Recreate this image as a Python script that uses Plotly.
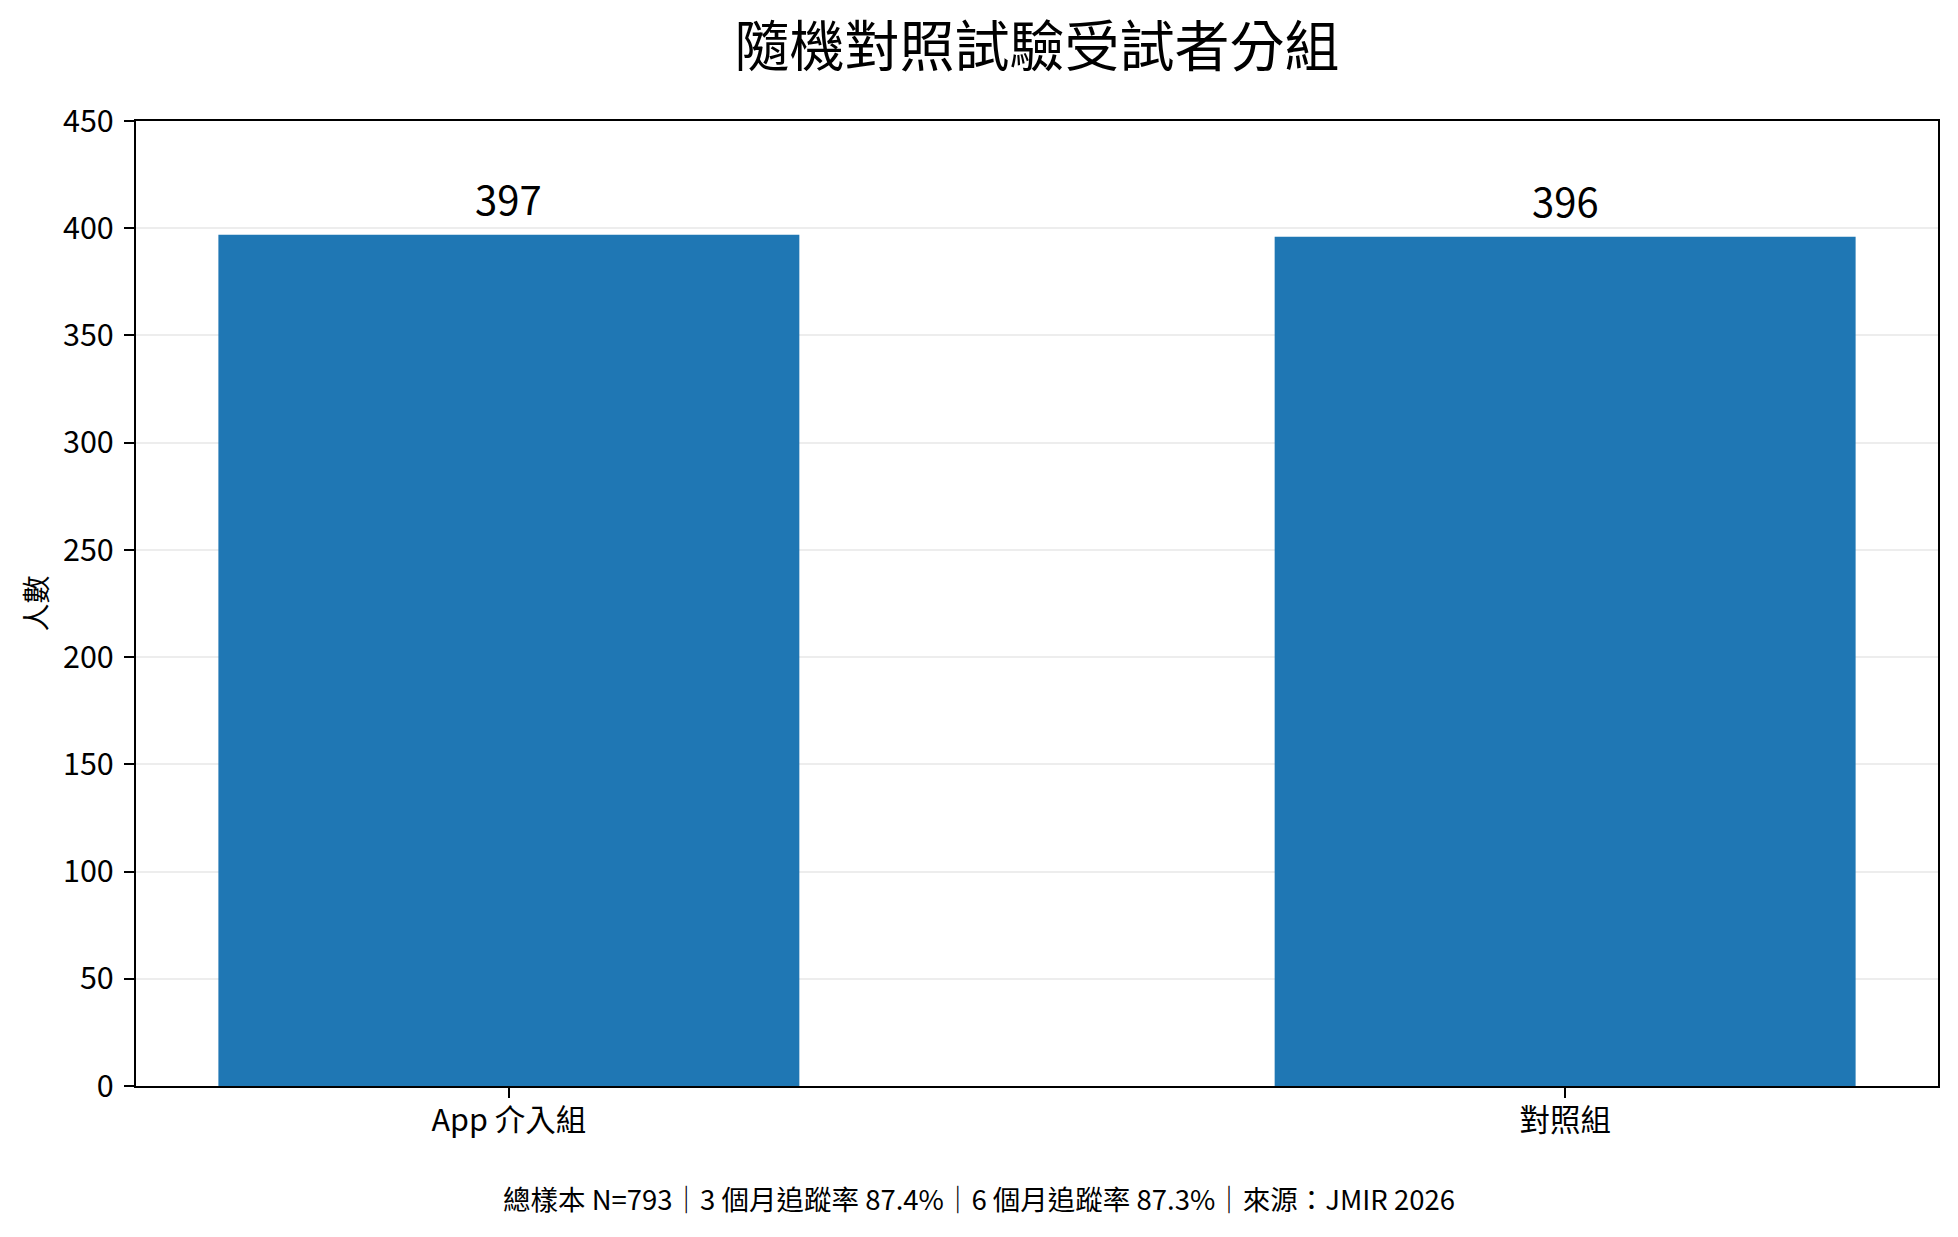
import plotly.graph_objects as go

categories = ["App 介入組", "對照組"]
counts = [397, 396]
y_ticks = [0, 50, 100, 150, 200, 250, 300, 350, 400, 450]

title_text = "隨機對照試驗受試者分組"
y_title = "人數"
footnote = "總樣本 N=793｜3 個月追蹤率 87.4%｜6 個月追蹤率 87.3%｜來源：JMIR 2026"

FONT = "Noto Sans CJK TC"
OFF = 0  # page body margin removed via post_script
W, H = 1958 - OFF, 1237 - OFF
L, R, T, B = 136 - OFF, 20, 121 - OFF, 151
PW, PH = W - L - R, H - T - B

fig = go.Figure()
fig.add_trace(go.Bar(
    x=[0, 1], y=counts, width=0.55,
    marker=dict(color="#1f77b4", line=dict(width=0)),
    hoverinfo="skip",
))

for i, v in enumerate(counts):
    fig.add_annotation(x=i, y=v, xref="x", yref="y", text=str(v),
                       showarrow=False, yanchor="bottom", yshift=6,
                       font=dict(family=FONT, size=40, color="black"))

fig.add_annotation(text=y_title, xref="paper", yref="paper",
                   x=(34 - OFF - L) / PW, y=0.5, textangle=-90,
                   showarrow=False, xanchor="center", yanchor="middle",
                   font=dict(family=FONT, size=28, color="black"))

fig.add_annotation(text=footnote, xref="paper", yref="paper",
                   x=(979 - OFF - L) / PW, y=-(1198 - OFF - (T + PH)) / PH,
                   showarrow=False, xanchor="center", yanchor="middle",
                   font=dict(family=FONT, size=27.5, color="black"))

fig.update_layout(
    width=W, height=H,
    margin=dict(l=L, r=R, t=T, b=B, pad=0),
    paper_bgcolor="white", plot_bgcolor="white",
    showlegend=False,
    font=dict(family=FONT, color="black"),
    title=dict(text=title_text, x=(1037 - OFF) / W, xanchor="center",
               y=1 - (47 - OFF) / H, yanchor="middle",
               font=dict(family=FONT, size=55, color="black")),
    xaxis=dict(
        tickmode="array", tickvals=[0, 1], ticktext=categories,
        range=[-0.353, 1.353], showgrid=False, zeroline=False,
        showline=True, linecolor="black", linewidth=2.2, mirror=True,
        ticks="outside", ticklen=10, tickwidth=2.2, tickcolor="black",
        tickfont=dict(family=FONT, size=30.5, color="black"),
        ticklabelstandoff=-4,
    ),
    yaxis=dict(
        tickmode="array", tickvals=y_ticks, ticktext=[str(t) for t in y_ticks],
        range=[0, 450], showgrid=True, gridcolor="#ededed", gridwidth=2,
        zeroline=False,
        showline=True, linecolor="black", linewidth=2.2, mirror=True,
        ticks="outside", ticklen=10, tickwidth=2.2, tickcolor="black",
        tickfont=dict(family=FONT, size=30.5, color="black"),
        ticklabelstandoff=4,
    ),
)

fig.write_html("out.html", config={"displayModeBar": False},
               post_script="document.body.style.margin='0';")
